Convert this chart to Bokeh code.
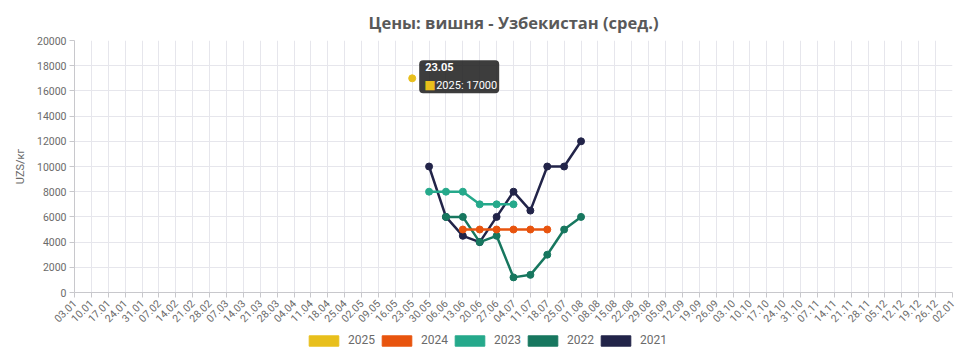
from bokeh.plotting import figure
from bokeh.models import (Range1d, FixedTicker, Label, Legend, LegendItem, ColumnDataSource,
                          BoxAnnotation)
from bokeh.layouts import column
from bokeh.embed import file_html
from bokeh.resources import INLINE
import math

dates = ["03.01", "10.01", "17.01", "24.01", "31.01", "07.02", "14.02", "21.02", "28.02",
         "07.03", "14.03", "21.03", "28.03", "04.04", "11.04", "18.04", "25.04", "02.05",
         "09.05", "16.05", "23.05", "30.05", "06.06", "13.06", "20.06", "27.06", "04.07",
         "11.07", "18.07", "25.07", "01.08", "08.08", "15.08", "22.08", "29.08", "05.09",
         "12.09", "19.09", "26.09", "03.10", "10.10", "17.10", "24.10", "31.10", "07.11",
         "14.11", "21.11", "28.11", "05.12", "12.12", "19.12", "26.12", "02.01"]

years = ["2025", "2024", "2023", "2022", "2021"]
colors = ["#E8BF1C", "#E8540E", "#25A98B", "#17775F", "#222449"]

dates_2025 = ["23.05"]
values_2025 = [17000]
dates_2024 = ["13.06", "20.06", "27.06", "04.07", "11.07", "18.07"]
values_2024 = [5000, 5000, 5000, 5000, 5000, 5000]
dates_2023 = ["30.05", "06.06", "13.06", "20.06", "27.06", "04.07"]
values_2023 = [8000, 8000, 8000, 7000, 7000, 7000]
dates_2022 = ["06.06", "13.06", "20.06", "27.06", "04.07", "11.07", "18.07", "25.07", "01.08"]
values_2022 = [6000, 6000, 4000, 4500, 1200, 1400, 3000, 5000, 6000]
dates_2021 = ["30.05", "06.06", "13.06", "20.06", "27.06", "04.07", "11.07", "18.07", "25.07", "01.08"]
values_2021 = [10000, 6000, 4500, 4000, 6000, 8000, 6500, 10000, 10000, 12000]

y_ticks = list(range(0, 20001, 2000))

series = {
    "2025": (dates_2025, values_2025),
    "2024": (dates_2024, values_2024),
    "2023": (dates_2023, values_2023),
    "2022": (dates_2022, values_2022),
    "2021": (dates_2021, values_2021),
}

tooltip_date = "23.05"
tooltip_year = "2025"

W, H = 966, 332
BL, BR, BT, BB = 74, 14, 40, 40
frame_w, frame_h = W - BL - BR, H - BT - BB
y_max = 20000

p = figure(width=W, height=H, output_backend="svg", toolbar_location=None,
           x_range=Range1d(0, len(dates) - 1), y_range=Range1d(0, y_max),
           min_border_left=BL, min_border_right=BR, min_border_top=BT, min_border_bottom=BB)

p.title.text = "Цены: вишня - Узбекистан (сред.)"
p.title.align = "center"
p.title.text_font = "Open Sans"
p.title.text_font_size = "16.5px"
p.title.text_font_style = "bold"
p.title.text_color = "#595959"
p.title.offset = 0
p.title.standoff = 14

p.outline_line_color = None
p.background_fill_color = "white"
p.border_fill_color = "white"

# axes
p.xaxis.ticker = FixedTicker(ticks=list(range(len(dates))))
p.xaxis.major_label_overrides = {i: d for i, d in enumerate(dates)}
p.xaxis.major_label_orientation = math.pi / 4
p.yaxis.ticker = FixedTicker(ticks=y_ticks)
p.yaxis.axis_label = "UZS/кг"
for ax in (p.xaxis, p.yaxis):
    ax.axis_line_color = "#c8c8cc"
    ax.major_tick_line_color = "#c8c8cc"
    ax.major_tick_out = 5
    ax.major_tick_in = 0
    ax.minor_tick_line_color = None
    ax.major_label_text_font = "Roboto"
    ax.major_label_text_color = "#6a6a6a"
p.xaxis.major_label_text_font_size = "10.5px"
p.yaxis.major_label_text_font_size = "10.5px"
p.yaxis.major_label_standoff = 3
p.yaxis.axis_label_text_font = "Roboto"
p.yaxis.axis_label_text_font_style = "normal"
p.yaxis.axis_label_text_font_size = "11px"
p.yaxis.axis_label_text_color = "#6a6a6a"
p.yaxis.axis_label_standoff = 7
p.xaxis.major_label_standoff = 4

p.xgrid.ticker = FixedTicker(ticks=list(range(len(dates))))
p.ygrid.ticker = FixedTicker(ticks=y_ticks)
p.grid.grid_line_color = "#e6e6ec"
p.grid.grid_line_width = 1

idx = {d: i for i, d in enumerate(dates)}

for year, color in zip(years[::-1], colors[::-1]):
    ds, vs = series[year]
    src = ColumnDataSource(dict(x=[idx[d] for d in ds], y=vs))
    p.line("x", "y", source=src, line_color=color, line_width=2.5)
    p.scatter("x", "y", source=src, size=7, fill_color=color, line_color=color)

# tooltip (box placed by pixel offsets from the hovered point)
tx = idx[tooltip_date]
ty = values_2025[dates_2025.index(tooltip_date)]
px_x = frame_w / (len(dates) - 1)
px_y = frame_h / y_max
box = BoxAnnotation(left=tx + 7 / px_x, right=tx + 87 / px_x,
                    top=ty + 18 / px_y, bottom=ty - 15 / px_y,
                    fill_color="#222222", fill_alpha=0.88, line_color=None,
                    border_radius=4, level="annotation")
p.add_layout(box)
p.add_layout(Label(x=tx, y=ty, x_offset=13, y_offset=15, text=tooltip_date,
                   text_align="left", text_baseline="top",
                   text_font="Roboto", text_font_style="bold",
                   text_font_size="11px", text_color="white"))
p.add_layout(Label(x=tx, y=ty, x_offset=12, y_offset=-7, text="■",
                   text_align="left", text_baseline="middle",
                   text_font="DejaVu Sans", text_font_size="12px",
                   text_color=colors[0]))
p.add_layout(Label(x=tx, y=ty, x_offset=24, y_offset=-7,
                   text=f"{tooltip_year}: {ty}",
                   text_align="left", text_baseline="middle",
                   text_font="Roboto", text_font_size="11px",
                   text_color="white"))

# legend strip below the chart (swatch proxies lie outside the strip's visible range)
leg = figure(width=W, height=24, output_backend="svg", toolbar_location=None,
             x_axis_type=None, y_axis_type=None, x_range=Range1d(0, 1), y_range=Range1d(0, 1),
             min_border_left=0, min_border_right=0, min_border_top=0, min_border_bottom=0)
leg.outline_line_color = None
leg.grid.visible = False
items = []
for year, color in zip(years, colors):
    r = leg.quad(left=[2], right=[3], top=[3], bottom=[2], fill_color=color, line_color=color)
    items.append(LegendItem(label=year, renderers=[r]))
legend = Legend(items=items, orientation="horizontal", location=(231, 9),
                glyph_width=37, glyph_height=13, label_standoff=6, spacing=3,
                label_text_font="Roboto", label_text_font_size="12px",
                label_text_color="#6a6a6a", border_line_color=None,
                background_fill_alpha=0, padding=0, margin=0)
leg.add_layout(legend, "center")

layout = column(p, leg, spacing=0)
open("out.html", "w").write(file_html(layout, INLINE))
